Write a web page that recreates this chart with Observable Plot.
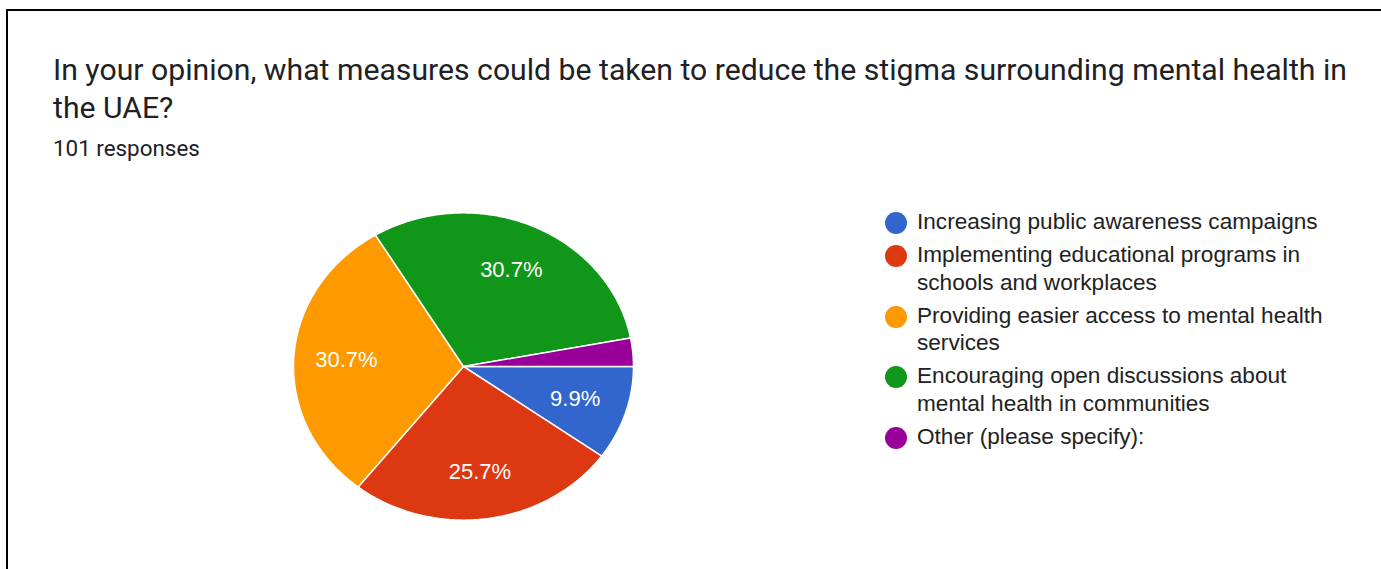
<!DOCTYPE html>
<html><head><meta charset="utf-8">
<script src="https://cdn.jsdelivr.net/npm/d3@7"></script>
<script src="https://cdn.jsdelivr.net/npm/@observablehq/plot@0.6"></script>
<style>
html,body{margin:0;padding:0;background:#fff;width:1381px;height:569px;overflow:hidden;position:relative;}
#frame{position:absolute;left:6px;top:9px;width:1400px;height:600px;border-left:2px solid #000;border-top:2px solid #000;box-sizing:border-box;}
#title{position:absolute;left:53px;top:51px;width:1315px;font-family:Roboto,"Noto Sans",sans-serif;font-size:30.2px;line-height:38px;color:#202124;}
#sub{position:absolute;left:53px;top:137px;font-family:Roboto,"Noto Sans",sans-serif;font-size:22.4px;line-height:22px;color:#202124;}
#chart{position:absolute;left:275.5px;top:196.5px;}
#legend{position:absolute;left:885px;top:208px;font-family:"Liberation Sans",Arial,sans-serif;font-size:22.6px;line-height:27.5px;color:#222;}
.item{display:flex;align-items:flex-start;margin-bottom:5.5px;}
.sw{width:22px;height:22px;border-radius:50%;margin-top:4px;margin-right:10px;flex:none;}
.lt{width:430px;}
</style></head>
<body>
<div id="frame"></div>
<div id="title">In your opinion, what measures could be taken to reduce the stigma surrounding mental health in the UAE?</div>
<div id="sub">101 responses</div>
<div id="chart"></div>
<div id="legend"></div>
<script>
const categories = [
  "Increasing public awareness campaigns",
  "Implementing educational programs in schools and workplaces",
  "Providing easier access to mental health services",
  "Encouraging open discussions about mental health in communities",
  "Other (please specify):"
];
const counts = [10, 26, 31, 31, 3];
const colors = ["#3366cc", "#dc3912", "#ff9900", "#109618", "#990099"];

const total = d3.sum(counts);
const arcs = d3.pie().sort(null).startAngle(Math.PI / 2).endAngle(Math.PI / 2 + 2 * Math.PI)(counts);

const slicePts = [];
arcs.forEach((a, i) => {
  const key = categories[i];
  slicePts.push({key, x: 0, y: 0});
  const n = Math.max(2, Math.ceil((a.endAngle - a.startAngle) / (Math.PI / 360)));
  for (let k = 0; k <= n; k++) {
    const t = a.startAngle + (a.endAngle - a.startAngle) * k / n;
    slicePts.push({key, x: Math.sin(t), y: Math.cos(t)});
  }
  slicePts.push({key, x: 0, y: 0});
});

const labels = arcs
  .map((a, i) => ({a, v: counts[i] / total}))
  .filter(d => d.v >= 0.05)
  .map(d => {
    const m = (d.a.startAngle + d.a.endAngle) / 2;
    return {x: 0.69 * Math.sin(m), y: 0.69 * Math.cos(m), label: d3.format(".1%")(d.v)};
  });

const chart = Plot.plot({
  width: 374, height: 338, margin: 0,
  x: {domain: [-1.1, 1.1], axis: null},
  y: {domain: [-1.1, 1.1], axis: null},
  color: {domain: categories, range: colors},
  style: {fontFamily: "'Liberation Sans', Arial, sans-serif", background: "transparent"},
  marks: [
    Plot.line(slicePts, {x: "x", y: "y", z: "key", fill: "key", stroke: "white", strokeWidth: 1.5, strokeLinejoin: "round", curve: "linear"}),
    Plot.text(labels, {x: "x", y: "y", text: "label", fill: "white", fontSize: 22})
  ]
});
document.getElementById("chart").appendChild(chart);

const legend = d3.select("#legend");
categories.forEach((c, i) => {
  const it = legend.append("div").attr("class", "item");
  it.append("div").attr("class", "sw").style("background", colors[i]);
  it.append("div").attr("class", "lt").text(c);
});
</script>
</body></html>
